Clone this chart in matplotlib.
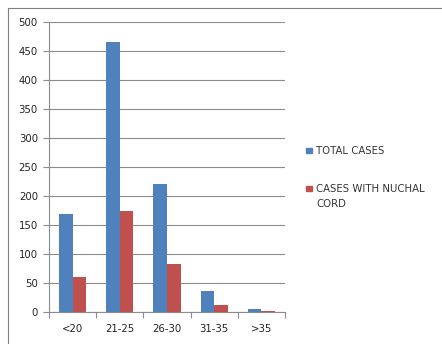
import matplotlib
matplotlib.use("Agg")
import matplotlib.pyplot as plt
import numpy as np
from matplotlib.lines import Line2D
from matplotlib.patches import Rectangle

categories = ["<20", "21-25", "26-30", "31-35", ">35"]
total_cases = [169, 466, 220, 36, 5]
nuchal_cases = [61, 174, 83, 12, 2]
series_names = ["TOTAL CASES", "CASES WITH NUCHAL\nCORD"]

blue = "#4f81bd"
red = "#c0504d"
grid_c = "#8c8c8c"

fig = plt.figure(figsize=(4.42, 3.44), dpi=100)
fig.patch.set_facecolor("white")

# outer chart frame (left and top edges)
fig.add_artist(Line2D([8/442, 8/442], [0, 1 - 8/344], transform=fig.transFigure,
                      color="#808080", lw=0.8))
fig.add_artist(Line2D([8/442, 1], [1 - 8/344, 1 - 8/344], transform=fig.transFigure,
                      color="#808080", lw=0.8))

ax = fig.add_axes([49/442, 1 - 312/344, (285 - 49)/442, (312 - 22)/344])
x = np.arange(len(categories))
w = 0.29
ax.bar(x - w/2, total_cases, w, color=blue, zorder=3)
ax.bar(x + w/2, nuchal_cases, w, color=red, zorder=3)

ax.set_xlim(-0.5, len(categories) - 0.5)
ax.set_ylim(0, 500)
ax.set_yticks(np.arange(0, 501, 50))
ax.yaxis.grid(True, color=grid_c, lw=0.8, zorder=0)
ax.set_axisbelow(True)

for s in ["top", "right"]:
    ax.spines[s].set_visible(False)
ax.spines["left"].set_color(grid_c)
ax.spines["bottom"].set_color(grid_c)
ax.spines["left"].set_linewidth(0.8)
ax.spines["bottom"].set_linewidth(0.8)

ax.set_xticks(np.arange(-0.5, len(categories), 1.0))
ax.set_xticklabels([])
ax.set_xticks(x, minor=True)
ax.set_xticklabels(categories, minor=True)
ax.tick_params(axis="x", which="major", length=4, color=grid_c, width=0.8)
ax.tick_params(axis="x", which="minor", length=0, labelsize=7.3, pad=9, colors="#222222")
ax.tick_params(axis="y", length=4, color=grid_c, width=0.8, labelsize=7.3, pad=4,
               labelcolor="#222222")

# legend entries
legend_items = [(150, blue, series_names[0]), (188, red, series_names[1])]
for ypix, col, label in legend_items:
    fig.add_artist(Rectangle((306/442, 1 - (ypix + 3)/344), 5.5/442, 5.5/344,
                             transform=fig.transFigure, color=col))
    fig.text(316/442, 1 - (ypix - 3.5)/344, label, fontsize=7.3, va="top", ha="left",
             color="#333333", linespacing=1.6)

fig.savefig("out.png", dpi=100)
